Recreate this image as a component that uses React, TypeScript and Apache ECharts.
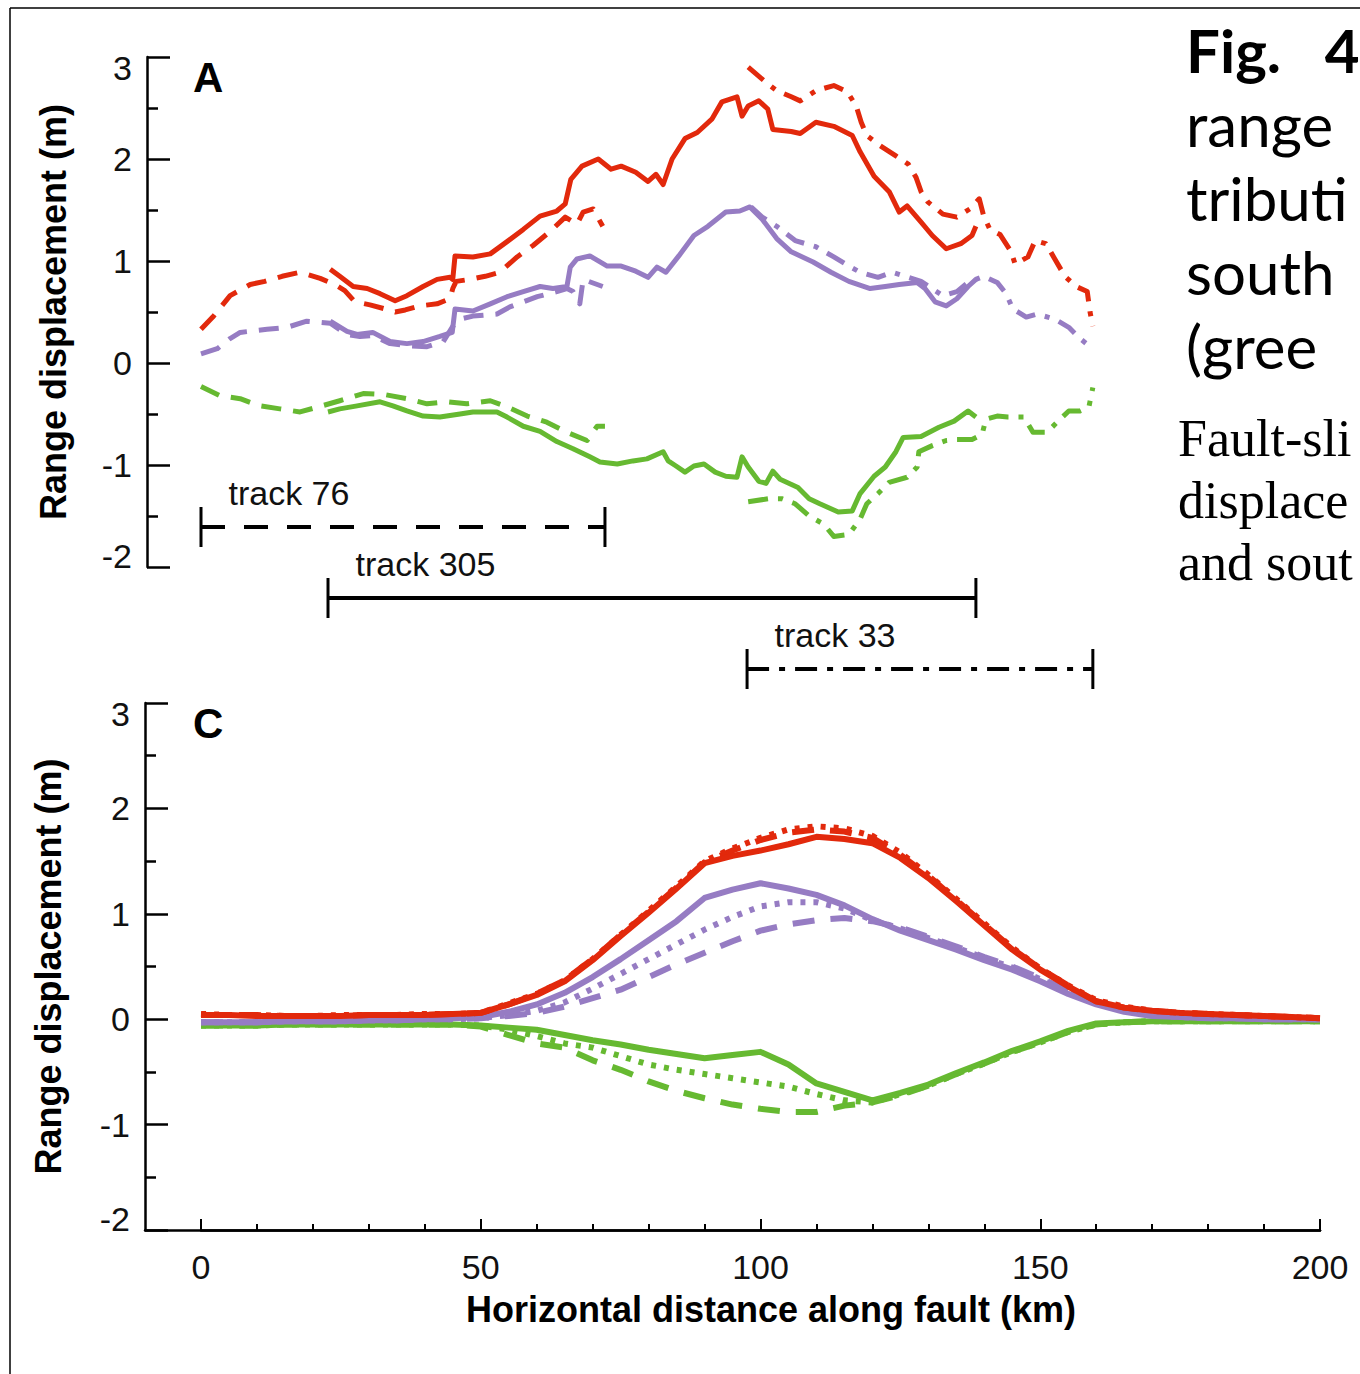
import React, { useEffect, useRef } from "react";
import * as echarts from "echarts";

// ---------- Panel A data: [km, m] ----------
const redTrack76 = [[0,0.33],[2.1,0.45],[5.2,0.66],[8.8,0.77],[11.4,0.8],[14.5,0.85],[17.7,0.89],[21.3,0.83],[23.9,0.77],[25.7,0.71],[27.5,0.6],[30.2,0.57],[32.9,0.53],[34.7,0.5],[36.5,0.52],[39.1,0.56],[42.2,0.58],[44.5,0.63],[45.0,0.73],[45.6,0.8],[48.1,0.82],[50.8,0.85],[53.4,0.89],[56.5,1.04],[59.3,1.15],[62.4,1.29],[65.1,1.43],[67.2,1.36],[68.3,1.48],[70.1,1.51],[71.8,1.34]];
const redTrack305 = [[23.1,0.92],[24.8,0.85],[27.2,0.75],[29.7,0.73],[32.0,0.68],[34.7,0.61],[36.8,0.66],[39.7,0.75],[42.2,0.82],[44.5,0.84],[45.0,0.82],[45.4,1.05],[48.6,1.04],[51.7,1.07],[54.7,1.19],[57.6,1.31],[60.6,1.44],[63.6,1.49],[65.1,1.56],[66.1,1.8],[68.1,1.93],[71.0,2.0],[73.3,1.9],[75.1,1.93],[77.7,1.87],[79.9,1.78],[81.3,1.85],[82.6,1.75],[84.2,2.0],[86.5,2.2],[88.7,2.26],[91.3,2.39],[93.1,2.56],[95.8,2.61],[96.7,2.42],[97.8,2.52],[99.7,2.57],[101.3,2.49],[102.2,2.29],[105.5,2.27],[107.1,2.25],[109.9,2.36],[113.1,2.32],[116.4,2.23],[117.8,2.07],[120.3,1.83],[123.0,1.68],[124.8,1.48],[126.2,1.54],[128.7,1.38],[130.7,1.25],[133.2,1.12],[135.8,1.17],[137.8,1.25],[138.5,1.34]];
const redTrack33 = [[97.8,2.9],[101.0,2.75],[102.9,2.67],[105.5,2.61],[107.1,2.57],[109.9,2.67],[113.1,2.72],[115.5,2.66],[117.1,2.52],[118.0,2.36],[119.0,2.23],[121.4,2.13],[124.2,2.03],[126.4,1.95],[127.8,1.82],[128.7,1.68],[129.9,1.58],[132.6,1.46],[135.1,1.43],[137.4,1.51],[139.1,1.61],[139.9,1.44],[141.0,1.31],[142.8,1.26],[144.8,1.09],[145.5,0.97],[147.8,1.04],[149.1,1.2],[151.0,1.17],[152.6,1.02],[154.4,0.85],[156.4,0.75],[158.4,0.7],[158.9,0.5],[159.4,0.36]];
const purpleTrack76 = [[0,0.09],[2.9,0.14],[5.2,0.24],[7.0,0.3],[11.8,0.33],[15.4,0.35],[18.9,0.41],[23.1,0.39],[26.1,0.28],[28.4,0.26],[30.7,0.27],[33.8,0.19],[36.8,0.17],[40.4,0.16],[43.3,0.21],[45.0,0.36],[46.3,0.43],[48.6,0.46],[52.9,0.48],[55.2,0.55],[60.1,0.65],[63.6,0.7],[65.4,0.73],[66.5,0.7],[67.7,0.58],[68.3,0.82],[71.8,0.75]];
const purpleTrack305 = [[23.1,0.41],[26.1,0.31],[27.9,0.28],[30.7,0.3],[33.8,0.21],[36.8,0.19],[39.7,0.21],[42.7,0.26],[44.9,0.3],[45.4,0.53],[48.6,0.51],[51.7,0.58],[54.7,0.65],[57.6,0.7],[60.6,0.75],[62.9,0.73],[65.4,0.75],[66.0,0.94],[67.2,1.02],[69.5,1.05],[72.6,0.95],[75.1,0.95],[77.7,0.9],[79.9,0.84],[81.5,0.94],[83.1,0.89],[85.4,1.05],[88.1,1.25],[90.6,1.34],[93.8,1.48],[96.3,1.49],[98.1,1.53],[100.3,1.41],[102.9,1.22],[105.5,1.09],[109.4,0.99],[112.6,0.89],[115.8,0.8],[119.6,0.73],[122.3,0.75],[124.8,0.77],[128.0,0.79],[129.4,0.73],[131.2,0.6],[133.2,0.56],[135.1,0.63],[137.1,0.75],[138.5,0.82]];
const purpleTrack33 = [[98.3,1.53],[100.3,1.43],[102.9,1.34],[106.2,1.2],[109.9,1.14],[113.1,1.04],[115.8,0.95],[117.8,0.89],[121.0,0.84],[123.5,0.89],[125.8,0.85],[128.7,0.8],[132.6,0.66],[135.1,0.7],[137.1,0.79],[139.9,0.85],[142.3,0.79],[143.9,0.68],[145.1,0.53],[147.5,0.45],[149.4,0.48],[152.6,0.43],[155.1,0.35],[157.1,0.24],[159.4,0.14]];
const greenTrack76 = [[0,-0.23],[3.4,-0.32],[7.0,-0.35],[10.5,-0.42],[14.1,-0.45],[17.7,-0.48],[21.6,-0.42],[24.8,-0.37],[29.0,-0.3],[32.9,-0.31],[36.8,-0.35],[40.4,-0.4],[44.0,-0.38],[47.5,-0.4],[51.7,-0.37],[54.7,-0.43],[58.3,-0.52],[61.8,-0.58],[65.4,-0.68],[69.0,-0.76],[70.8,-0.62],[72.2,-0.62]];
const greenTrack305 = [[22.7,-0.48],[24.8,-0.45],[27.9,-0.42],[32.0,-0.38],[34.3,-0.42],[36.8,-0.47],[39.7,-0.52],[42.7,-0.53],[46.3,-0.5],[48.6,-0.48],[52.9,-0.48],[54.7,-0.53],[57.6,-0.62],[60.6,-0.67],[63.6,-0.77],[66.5,-0.84],[69.5,-0.92],[71.3,-0.97],[74.4,-0.99],[77.2,-0.96],[79.7,-0.94],[82.6,-0.87],[83.5,-0.96],[84.9,-1.01],[86.5,-1.07],[88.1,-1.01],[89.9,-0.99],[91.9,-1.07],[93.8,-1.11],[95.8,-1.12],[96.7,-0.92],[97.8,-1.02],[99.7,-1.16],[101.0,-1.18],[102.2,-1.06],[103.5,-1.14],[106.7,-1.22],[108.7,-1.33],[110.6,-1.38],[113.9,-1.46],[116.4,-1.45],[117.8,-1.28],[120.3,-1.11],[122.3,-1.02],[124.2,-0.87],[125.5,-0.73],[128.7,-0.72],[131.9,-0.63],[134.6,-0.57],[137.1,-0.47],[138.5,-0.53]];
const greenTrack33 = [[97.8,-1.36],[101.5,-1.33],[103.8,-1.33],[106.2,-1.38],[108.7,-1.5],[111.3,-1.58],[113.1,-1.7],[115.8,-1.68],[117.8,-1.53],[119.0,-1.38],[121.0,-1.28],[123.0,-1.17],[126.2,-1.12],[128.0,-1.02],[128.3,-0.87],[130.7,-0.81],[133.2,-0.76],[135.1,-0.75],[137.8,-0.75],[139.6,-0.7],[140.3,-0.55],[142.3,-0.52],[144.2,-0.53],[147.1,-0.53],[148.7,-0.68],[151.2,-0.68],[153.2,-0.57],[155.1,-0.47],[157.1,-0.47],[158.7,-0.43],[159.4,-0.24]];

// ---------- Tracks ----------
const trackNames = ["track 76", "track 305", "track 33"];
const trackStart = [0, 22.7, 97.6];
const trackEnd = [72.2, 138.5, 159.4];

// ---------- Panel C data (every 5 km) ----------
const xC = [0,5,10,15,20,25,30,35,40,45,50,55,60,65,70,75,80,85,90,95,100,105,110,115,120,125,130,135,140,145,150,155,160,165,170,175,180,185,190,195,200];
const redSolidC =   [0.04,0.04,0.03,0.03,0.03,0.03,0.04,0.04,0.04,0.05,0.06,0.14,0.23,0.36,0.56,0.79,1.01,1.24,1.48,1.55,1.6,1.66,1.73,1.71,1.67,1.53,1.34,1.12,0.89,0.66,0.47,0.31,0.17,0.11,0.08,0.06,0.05,0.04,0.03,0.02,0.01];
const redDottedC =  [0.05,0.04,0.04,0.03,0.03,0.04,0.04,0.04,0.05,0.05,0.06,0.15,0.24,0.37,0.57,0.8,1.03,1.26,1.5,1.62,1.72,1.8,1.83,1.81,1.74,1.58,1.37,1.14,0.91,0.68,0.48,0.32,0.18,0.12,0.08,0.06,0.05,0.04,0.03,0.02,0.01];
const redDashedC =  [0.04,0.04,0.04,0.03,0.03,0.03,0.04,0.04,0.04,0.05,0.06,0.14,0.24,0.37,0.57,0.8,1.02,1.25,1.49,1.6,1.7,1.77,1.8,1.78,1.72,1.56,1.36,1.13,0.9,0.67,0.48,0.32,0.17,0.11,0.08,0.06,0.05,0.04,0.03,0.02,0.01];
const purpleSolidC =  [-0.03,-0.03,-0.03,-0.02,-0.02,-0.02,-0.01,-0.01,0,0.01,0.02,0.07,0.14,0.25,0.4,0.57,0.75,0.93,1.15,1.23,1.29,1.24,1.18,1.08,0.95,0.84,0.75,0.66,0.56,0.47,0.36,0.24,0.14,0.07,0.03,0.02,0.01,0.01,0,0,0];
const purpleDottedC = [-0.03,-0.03,-0.03,-0.02,-0.02,-0.02,-0.01,-0.01,0,0,0.01,0.04,0.08,0.16,0.29,0.43,0.57,0.71,0.85,0.97,1.07,1.11,1.11,1.05,0.94,0.86,0.77,0.68,0.58,0.49,0.38,0.26,0.15,0.08,0.04,0.02,0.01,0.01,0,0,0];
const purpleDashedC = [-0.03,-0.03,-0.03,-0.02,-0.02,-0.02,-0.01,-0.01,0,0,0.01,0.03,0.06,0.12,0.2,0.28,0.4,0.52,0.63,0.74,0.84,0.9,0.94,0.96,0.93,0.87,0.78,0.69,0.59,0.5,0.39,0.27,0.16,0.09,0.05,0.03,0.02,0.01,0,0,0];
const greenSolidC =  [-0.06,-0.06,-0.06,-0.05,-0.05,-0.05,-0.05,-0.05,-0.05,-0.05,-0.06,-0.08,-0.1,-0.15,-0.2,-0.24,-0.29,-0.33,-0.37,-0.34,-0.31,-0.43,-0.61,-0.69,-0.77,-0.7,-0.62,-0.51,-0.41,-0.3,-0.21,-0.11,-0.04,-0.03,-0.02,-0.02,-0.02,-0.02,-0.02,-0.02,-0.02];
const greenDottedC = [-0.06,-0.06,-0.06,-0.05,-0.05,-0.05,-0.05,-0.05,-0.05,-0.05,-0.06,-0.1,-0.16,-0.23,-0.27,-0.35,-0.43,-0.48,-0.52,-0.56,-0.6,-0.64,-0.71,-0.77,-0.79,-0.71,-0.63,-0.52,-0.42,-0.31,-0.22,-0.12,-0.05,-0.03,-0.02,-0.02,-0.02,-0.02,-0.02,-0.02,-0.02];
const greenDashedC = [-0.06,-0.06,-0.06,-0.05,-0.05,-0.05,-0.05,-0.05,-0.05,-0.05,-0.07,-0.15,-0.23,-0.27,-0.39,-0.48,-0.59,-0.68,-0.75,-0.81,-0.85,-0.88,-0.88,-0.82,-0.79,-0.72,-0.63,-0.52,-0.42,-0.31,-0.22,-0.12,-0.05,-0.03,-0.02,-0.02,-0.02,-0.02,-0.02,-0.02,-0.02];

const yTicks = [-2, -1, 0, 1, 2, 3];

// Caption fragment visible at the right edge of the figure
const captionSans = ["range", "tributi", "south", "(gree"];
const captionSerif = ["Fault-sli", "displace", "and sout"];

const RED = "#e2290c";
const PURPLE = "#967cc3";
const GREEN = "#66b931";
const FONT = "Liberation Sans, Arial, sans-serif";

const DASH = [20, 12];
const DASHDOT = [20, 10, 5, 10];
const DOT_C = [5, 8];
const DASH_C = [22, 16];

function lineA(name: string, data: number[][], color: string, type: any, z: number) {
  return {
    type: "line", name, xAxisIndex: 0, yAxisIndex: 0, data,
    symbol: "none", silent: true, z,
    lineStyle: { color, width: 5, type, cap: "butt", join: "round" },
    itemStyle: { color },
  };
}
function lineC(name: string, ys: number[], color: string, type: any, z: number) {
  return {
    type: "line", name, xAxisIndex: 2, yAxisIndex: 2,
    data: xC.map((x, i) => [x, ys[i]]),
    symbol: "none", silent: true, z,
    lineStyle: { color, width: 6, type, cap: "butt", join: "round" },
    itemStyle: { color },
  };
}
const trackStyles: any[] = [[24, 19], "solid", [22, 10, 6, 10]];
function trackSeries(i: number) {
  return {
    type: "line", name: trackNames[i], xAxisIndex: 1, yAxisIndex: 1,
    data: [
      {
        value: [trackStart[i], i + 1],
        label: {
          show: true, formatter: trackNames[i], position: [29, -14],
          align: "left", verticalAlign: "middle",
          fontSize: 34, fontFamily: FONT, color: "#111",
        },
      },
      { value: [trackEnd[i], i + 1] },
    ],
    symbol: "rect", symbolSize: [3, 40], showSymbol: true, silent: true,
    itemStyle: { color: "#000" },
    lineStyle: { color: "#000", width: 4, type: trackStyles[i], cap: "butt" },
  };
}

const labelTok = { fontSize: 34, fontFamily: FONT, color: "#111" };
function yAxisFor(gridIndex: number, offset: number, nameGap: number) {
  const lo = yTicks[0];
  const hi = yTicks[yTicks.length - 1];
  return {
    gridIndex, type: "value", min: lo, max: hi, interval: 1,
    position: "left", offset,
    name: "Range displacement (m)", nameLocation: "middle", nameGap,
    nameTextStyle: { fontSize: 36, fontWeight: "bold", fontFamily: FONT, color: "#000" },
    axisLine: { show: true, onZero: false, lineStyle: { color: "#000", width: 2.5 } },
    axisTick: { show: true, inside: true, length: 23, lineStyle: { color: "#000", width: 2.5 } },
    minorTick: { show: true, splitNumber: 2, length: 11, lineStyle: { color: "#000", width: 2.5 } },
    axisLabel: {
      ...labelTok, margin: 15,
      formatter: (v: number) => (v === hi ? `{hi|${v}}` : v === lo ? `{lo|${v}}` : String(v)),
      rich: {
        hi: { ...labelTok, padding: [21, 0, 0, 0] },
        lo: { ...labelTok, padding: [0, 0, 23, 0] },
      },
    },
    splitLine: { show: false },
    minorSplitLine: { show: false },
  };
}

export default function App() {
  const ref = useRef<HTMLDivElement>(null);
  useEffect(() => {
    if (!ref.current) return;
    const chart = echarts.init(ref.current, null, { renderer: "svg" });
    const sansFont = "60px Lato, sans-serif";
    const serifFont = "52px Liberation Serif, serif";
    const option: any = {
      animation: false,
      backgroundColor: "#fff",
      textStyle: { fontFamily: FONT },
      grid: [
        { left: 201, top: 57, width: 1119, height: 510 },
        { left: 201, top: 456, width: 1119, height: 284 },
        { left: 201, top: 703, width: 1119, height: 527 },
        { left: 145, top: 703, width: 1175, height: 527 },
      ],
      xAxis: [
        { gridIndex: 0, type: "value", min: 0, max: 200, show: false },
        { gridIndex: 1, type: "value", min: 0, max: 200, show: false },
        {
          gridIndex: 2, type: "value", min: 0, max: 200, interval: 50, position: "bottom",
          axisLine: { show: true, onZero: false, lineStyle: { color: "#000", width: 2.5 } },
          axisTick: { show: true, inside: true, length: 11, lineStyle: { color: "#000", width: 2 } },
          minorTick: { show: true, splitNumber: 5, length: 6, lineStyle: { color: "#000", width: 2 } },
          axisLabel: { ...labelTok, margin: 20 },
          splitLine: { show: false },
        },
        {
          gridIndex: 3, type: "value", min: 0, max: 1, position: "bottom",
          axisLine: { show: true, onZero: false, lineStyle: { color: "#000", width: 2.5 } },
          axisTick: { show: false }, axisLabel: { show: false }, splitLine: { show: false },
        },
      ],
      yAxis: [
        yAxisFor(0, 54, 76),
        { gridIndex: 1, type: "value", min: 0, max: 4, inverse: true, show: false },
        yAxisFor(2, 56, 79),
        { gridIndex: 3, type: "value", min: 0, max: 1, show: false },
      ],
      series: [
        lineA("green track 76", greenTrack76, GREEN, DASH, 2),
        lineA("green track 305", greenTrack305, GREEN, "solid", 2),
        lineA("green track 33", greenTrack33, GREEN, DASHDOT, 2),
        lineA("purple track 76", purpleTrack76, PURPLE, DASH, 3),
        lineA("purple track 305", purpleTrack305, PURPLE, "solid", 3),
        lineA("purple track 33", purpleTrack33, PURPLE, DASHDOT, 3),
        lineA("red track 76", redTrack76, RED, DASH, 4),
        lineA("red track 305", redTrack305, RED, "solid", 4),
        lineA("red track 33", redTrack33, RED, DASHDOT, 4),
        trackSeries(0), trackSeries(1), trackSeries(2),
        lineC("green dashed", greenDashedC, GREEN, DASH_C, 2),
        lineC("green dotted", greenDottedC, GREEN, DOT_C, 2),
        lineC("green solid", greenSolidC, GREEN, "solid", 2),
        lineC("purple dashed", purpleDashedC, PURPLE, DASH_C, 3),
        lineC("purple dotted", purpleDottedC, PURPLE, DOT_C, 3),
        lineC("purple solid", purpleSolidC, PURPLE, "solid", 3),
        lineC("red dashed", redDashedC, RED, DASH_C, 4),
        lineC("red dotted", redDottedC, RED, DOT_C, 4),
        lineC("red solid", redSolidC, RED, "solid", 4),
      ],
      graphic: [
        { type: "line", shape: { x1: 10, y1: 8, x2: 10, y2: 1374 }, style: { stroke: "#000", lineWidth: 1.5 }, silent: true },
        { type: "line", shape: { x1: 10, y1: 8, x2: 1360, y2: 8 }, style: { stroke: "#000", lineWidth: 1.5 }, silent: true },
        { type: "text", x: 193, y: 77, style: { text: "A", font: "bold 42px " + FONT, fill: "#000", verticalAlign: "middle" } },
        { type: "text", x: 193, y: 723, style: { text: "C", font: "bold 42px " + FONT, fill: "#000", verticalAlign: "middle" } },
        { type: "text", x: 771, y: 1309, style: { text: "Horizontal distance along fault (km)", font: "bold 36px " + FONT, fill: "#000", align: "center", verticalAlign: "middle" } },
        { type: "text", x: 1186, y: 50, style: { text: "Fig.\u00a0\u00a0\u00a04", font: "bold 60px Lato, sans-serif", fill: "#000", verticalAlign: "middle" } },
        ...captionSans.map((t, i) => ({
          type: "text", x: 1186, y: 124 + i * 74,
          style: { text: t, font: sansFont, fill: "#000", verticalAlign: "middle" },
        })),
        ...captionSerif.map((t, i) => ({
          type: "text", x: 1178, y: 438 + i * 62,
          style: { text: t, font: serifFont, fill: "#000", verticalAlign: "middle" },
        })),
      ],
    };
    chart.setOption(option);
    return () => chart.dispose();
  }, []);
  return (
    <div
      ref={ref}
      style={{ position: "fixed", left: 0, top: 0, width: 1360, height: 1374, background: "#fff" }}
    />
  );
}
